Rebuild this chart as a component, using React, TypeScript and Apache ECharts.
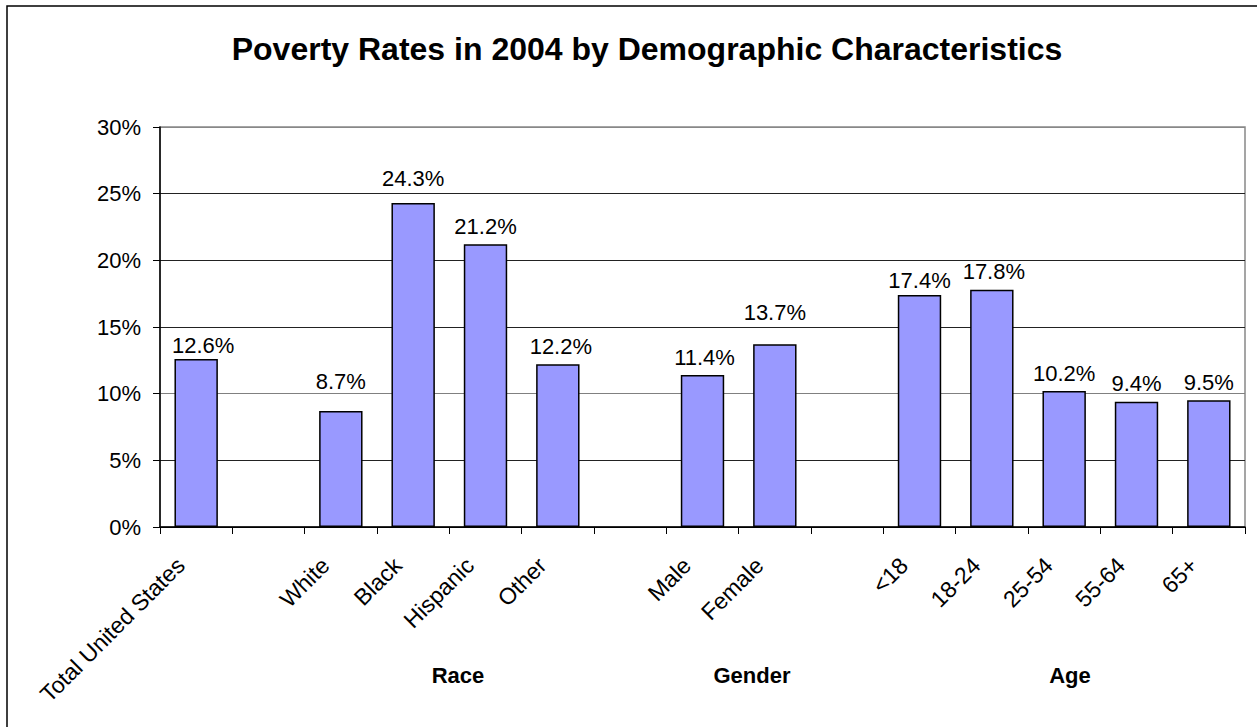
import React, { useEffect, useRef } from "react";
import * as echarts from "echarts";

const categories = [
  "Total United States", "", "White", "Black", "Hispanic", "Other", " ",
  "Male", "Female", "  ", "<18", "18-24", "25-54", "55-64", "65+",
];
const values: (number | null)[] = [
  12.6, null, 8.7, 24.3, 21.2, 12.2, null, 11.4, 13.7, null, 17.4, 17.8, 10.2, 9.4, 9.5,
];
const yTicks = [0, 5, 10, 15, 20, 25, 30];
const groupLabels = ["Race", "Gender", "Age"];
const title = "Poverty Rates in 2004 by Demographic Characteristics";

// extra label lift (styling only, px) to mimic hand-placed labels
const labelLift = [-4, 0, 12, 7, 0, 0, 0, 0, 14, 0, -3, 0, 0, 0, 0];
const labelShiftX = [7, 0, 0, 0, 0, 3, 0, 2, 0, 0, 0, 2, 0, 0, 0];

export default function App() {
  const ref = useRef<HTMLDivElement>(null);
  useEffect(() => {
    if (!ref.current) return;
    const chart = echarts.init(ref.current, undefined, { renderer: "svg" });
    const font = "Arial, 'Liberation Sans', sans-serif";
    const groupX = [458, 752, 1070];
    const seriesData = values.map((v, i) => ({
      value: v,
      label: { offset: [labelShiftX[i], -labelLift[i]] },
    }));
    chart.setOption({
      animation: false,
      backgroundColor: "#fff",
      textStyle: { fontFamily: font },
      grid: {
        left: 160, right: 12, top: 127, bottom: 200,
        show: true, borderColor: "#888", borderWidth: 1.5, backgroundColor: "transparent",
      },
      xAxis: {
        type: "category",
        data: categories,
        boundaryGap: true,
        axisLine: { lineStyle: { color: "#000", width: 1.5 } },
        axisTick: { show: true, length: 7, inside: false, alignWithLabel: false, lineStyle: { color: "#000" } },
        axisLabel: {
          rotate: 45, margin: 19, color: "#000", fontSize: 23, fontFamily: font, interval: 0,
          padding: [0, 22, 0, 0],
        },
        splitLine: { show: false },
      },
      yAxis: {
        type: "value",
        min: yTicks[0],
        max: yTicks[yTicks.length - 1],
        interval: 5,
        axisLine: { show: true, lineStyle: { color: "#000", width: 1.5 } },
        axisTick: { show: true, length: 7, lineStyle: { color: "#000" } },
        axisLabel: { formatter: "{value}%", color: "#000", fontSize: 22, fontFamily: font, margin: 19 },
        splitLine: {
          show: true,
          lineStyle: { color: ["#000", "#222", "#808080", "#222", "#222", "#222", "#888"], width: 1.2 },
        },
      },
      series: [
        {
          type: "bar",
          data: seriesData,
          barWidth: "60%",
          itemStyle: { color: "#9999FF", borderColor: "#000", borderWidth: 1.5 },
          label: {
            show: true,
            position: "top",
            distance: 7,
            color: "#000",
            fontSize: 22,
            fontFamily: font,
            formatter: (p: any) => (p.value == null ? "" : Number(p.value).toFixed(1) + "%"),
          },
        },
      ],
      graphic: [
        {
          type: "rect",
          shape: { x: 7, y: 6, width: 1300, height: 800 },
          style: { fill: "none", stroke: "#000", lineWidth: 1.5 },
          silent: true,
        },
        {
          type: "text",
          x: 647,
          y: 49,
          style: {
            text: title, fontSize: 32, fontWeight: "bold", fontFamily: font,
            fill: "#000", textAlign: "center", textVerticalAlign: "middle",
          },
        },
        ...groupLabels.map((t, i) => ({
          type: "text",
          x: groupX[i],
          y: 675,
          style: {
            text: t, fontSize: 22, fontWeight: "bold", fontFamily: font,
            fill: "#000", textAlign: "center", textVerticalAlign: "middle",
          },
        })),
      ],
    });
    return () => chart.dispose();
  }, []);
  return (
    <div
      ref={ref}
      style={{ position: "fixed", left: 0, top: 0, width: 1257, height: 727 }}
    />
  );
}
